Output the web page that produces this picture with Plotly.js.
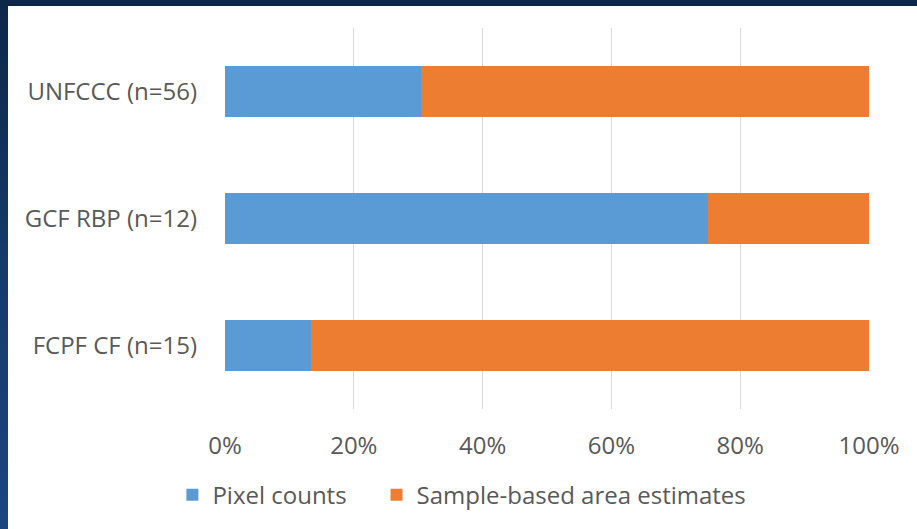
<!DOCTYPE html>
<html>
<head>
<meta charset="utf-8">
<script src="https://cdn.plot.ly/plotly-3.0.1.min.js"></script>
<style>
html,body{margin:0;padding:0;background:#fff;width:917px;height:529px;overflow:hidden;}
#chart{position:absolute;left:0;top:0;width:917px;height:529px;}
#topbar{position:absolute;left:0;top:0;width:917px;height:6px;background:#0c2748;z-index:5;}
#leftbar{position:absolute;left:0;top:0;width:8px;height:529px;background:linear-gradient(#0c2748,#163a6a 50%,#1b4682);z-index:5;}
</style>
</head>
<body>
<div id="chart"></div>
<div id="topbar"></div>
<div id="leftbar"></div>
<script>
const categories = ["FCPF CF (n=15)", "GCF RBP (n=12)", "UNFCCC (n=56)"];
const pixelCounts = [0.133, 0.75, 0.304];
const sampleBased = [0.867, 0.25, 0.696];
const xTicks = [0, 0.2, 0.4, 0.6, 0.8, 1.0];
const xTickLabels = ["0%", "20%", "40%", "60%", "80%", "100%"];
const seriesNames = ["Pixel counts", "Sample-based area estimates"];

const font = {family: "Open Sans, sans-serif", size: 24, color: "#595959"};
const pad = "\u00a0\u00a0\u00a0\u00a0";

const data = [
  {type: "bar", orientation: "h", name: seriesNames[0] + pad, y: categories, x: pixelCounts,
   marker: {color: "#5b9bd5"}, width: 0.4},
  {type: "bar", orientation: "h", name: seriesNames[1], y: categories, x: sampleBased,
   marker: {color: "#ed7d31"}, width: 0.4}
];

const layout = {
  width: 917, height: 529,
  barmode: "stack",
  paper_bgcolor: "#ffffff", plot_bgcolor: "#ffffff",
  margin: {l: 225, r: 48, t: 28, b: 120},
  font: font,
  showlegend: true,
  legend: {orientation: "h", x: 0.188, xref: "container", xanchor: "left", y: 0.064, yref: "container", yanchor: "middle",
           font: font, traceorder: "normal", itemwidth: 30},
  xaxis: {range: [0, 1], tickvals: xTicks, ticktext: xTickLabels, showgrid: true, gridcolor: "#d9d9d9", gridwidth: 1,
          zeroline: false, showline: false, ticks: "", ticklabelstandoff: 20, tickfont: font, fixedrange: true},
  yaxis: {range: [-0.5, 2.5], showgrid: false, zeroline: false, showline: false, ticks: "", ticklabelstandoff: 27,
          tickfont: font, fixedrange: true}
};

Plotly.newPlot("chart", data, layout, {displayModeBar: false, staticPlot: true});
</script>
</body>
</html>
